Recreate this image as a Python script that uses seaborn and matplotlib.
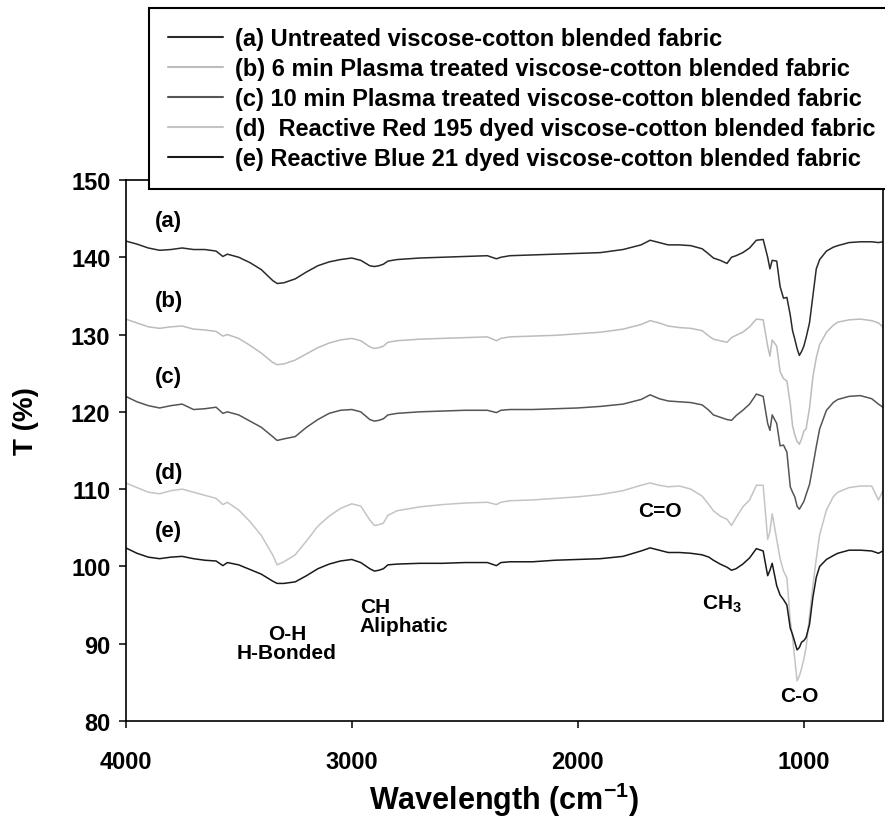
import pandas as pd
import matplotlib
matplotlib.use("Agg")
import matplotlib.pyplot as plt
import seaborn as sns

# --- wavenumber grid (cm-1) and transmittance ---
wavenumber = [4000, 3950, 3900, 3850, 3800, 3750, 3700, 3650, 3600, 3570, 3550, 3500,
              3450, 3400, 3350, 3330, 3300, 3250, 3200, 3150, 3100, 3050, 3000, 2960,
              2920, 2900, 2880, 2860, 2840, 2800, 2700, 2600, 2500, 2400, 2360, 2340,
              2300, 2200, 2100, 2000, 1900, 1800, 1720, 1680, 1640, 1600, 1550, 1500,
              1450, 1420, 1400, 1370, 1340, 1320, 1300, 1270, 1240, 1210, 1180, 1160,
              1150, 1140, 1120, 1105, 1090, 1075, 1060, 1050, 1040, 1030, 1020, 1010,
              1000, 990, 975, 960, 945, 930, 900, 870, 850, 800, 750, 700, 670, 650]

t_a = [142.1, 141.7, 141.2, 140.9, 141.0, 141.2, 141.0, 141.0, 140.8, 140.1, 140.4, 140.0,
       139.3, 138.4, 137.0, 136.6, 136.7, 137.2, 138.1, 138.9, 139.4, 139.7, 139.9, 139.6,
       138.9, 138.8, 138.9, 139.1, 139.5, 139.7, 139.9, 140.0, 140.1, 140.2, 139.8, 140.0,
       140.2, 140.3, 140.4, 140.5, 140.6, 141.0, 141.6, 142.2, 141.9, 141.6, 141.6, 141.5,
       141.1, 140.4, 139.9, 139.6, 139.2, 140.0, 140.2, 140.6, 141.2, 142.2, 142.3, 140.0,
       138.5, 139.6, 139.5, 136.2, 134.7, 134.8, 132.5, 130.5, 129.4, 128.2, 127.3, 127.8,
       128.5, 129.6, 131.5, 135.0, 138.5, 139.7, 140.8, 141.3, 141.5, 141.9, 142.0, 142.0,
       141.9, 142.0]

t_b = [132.0, 131.5, 131.0, 130.8, 131.0, 131.1, 130.7, 130.6, 130.4, 129.8, 130.0, 129.5,
       128.6, 127.6, 126.4, 126.1, 126.2, 126.7, 127.5, 128.3, 128.9, 129.3, 129.5, 129.2,
       128.4, 128.2, 128.3, 128.5, 129.0, 129.2, 129.4, 129.5, 129.6, 129.7, 129.2, 129.5,
       129.7, 129.8, 129.9, 130.1, 130.3, 130.7, 131.3, 131.8, 131.5, 131.1, 130.9, 130.8,
       130.5, 129.8, 129.4, 129.2, 129.0, 129.6, 129.9, 130.3, 131.0, 132.0, 131.9, 128.5,
       127.2, 129.3, 128.5, 125.2, 124.3, 124.0, 121.0, 118.2, 117.0, 116.2, 115.8, 116.5,
       117.5, 117.8, 120.5, 124.5, 127.0, 128.7, 130.3, 131.2, 131.6, 131.9, 132.0, 131.8,
       131.5, 131.0]

t_c = [122.0, 121.3, 120.8, 120.5, 120.8, 121.0, 120.3, 120.4, 120.6, 119.8, 120.0, 119.6,
       118.8, 118.0, 116.8, 116.3, 116.5, 116.8, 118.0, 119.0, 119.8, 120.2, 120.3, 120.0,
       119.0, 118.8, 118.9, 119.1, 119.6, 119.8, 120.0, 120.1, 120.2, 120.2, 119.9, 120.2,
       120.3, 120.3, 120.4, 120.5, 120.7, 121.0, 121.6, 122.2, 121.7, 121.4, 121.3, 121.2,
       120.9, 120.2, 119.6, 119.3, 119.0, 118.9, 119.5, 120.2, 121.0, 122.3, 122.0, 118.5,
       117.6, 119.6, 118.5, 115.6, 115.7, 114.8, 110.3, 109.6, 109.0, 107.8, 107.4, 107.9,
       108.4, 109.3, 110.6, 113.0, 115.5, 117.8, 120.2, 121.2, 121.6, 122.0, 122.1, 121.7,
       121.0, 120.6]

t_d = [110.8, 110.2, 109.6, 109.4, 109.8, 110.0, 109.6, 109.2, 108.8, 108.0, 108.3, 107.3,
       105.8, 104.0, 101.5, 100.2, 100.6, 101.5, 103.3, 105.2, 106.5, 107.5, 108.1, 107.8,
       106.0, 105.3, 105.4, 105.6, 106.6, 107.2, 107.7, 108.0, 108.2, 108.3, 108.0, 108.3,
       108.5, 108.6, 108.8, 109.0, 109.3, 109.8, 110.5, 110.8, 110.5, 110.3, 110.4, 110.0,
       109.1, 108.0, 107.2, 106.5, 106.1, 105.3, 106.3, 107.7, 108.6, 110.5, 110.5, 103.5,
       104.5, 106.8, 103.5, 101.0, 99.4, 98.5, 93.0, 90.8, 88.0, 85.2, 85.8, 86.8,
       88.0, 89.5, 93.6, 97.5, 101.0, 104.1, 107.3, 109.0, 109.6, 110.2, 110.4, 110.4,
       108.6, 109.8]

t_e = [102.4, 101.7, 101.2, 101.0, 101.2, 101.3, 101.0, 100.8, 100.7, 100.1, 100.5, 100.2,
       99.6, 99.0, 98.1, 97.8, 97.8, 98.0, 98.8, 99.7, 100.3, 100.7, 100.9, 100.5,
       99.7, 99.4, 99.5, 99.7, 100.2, 100.3, 100.4, 100.4, 100.5, 100.5, 100.1, 100.5,
       100.6, 100.6, 100.8, 100.9, 101.0, 101.3, 102.0, 102.4, 102.1, 101.8, 101.8, 101.7,
       101.5, 101.2, 100.8, 100.3, 99.9, 99.5, 99.7, 100.3, 101.1, 102.3, 102.0, 98.8,
       99.5, 100.4, 97.5, 96.3, 95.7, 95.0, 92.0, 91.2, 90.2, 89.2, 89.5, 90.2,
       90.4, 90.8, 92.5, 96.0, 98.6, 100.0, 100.9, 101.4, 101.7, 102.1, 102.1, 102.0,
       101.7, 102.0]

labels = ["(a) Untreated viscose-cotton blended fabric",
          "(b) 6 min Plasma treated viscose-cotton blended fabric",
          "(c) 10 min Plasma treated viscose-cotton blended fabric",
          "(d)  Reactive Red 195 dyed viscose-cotton blended fabric",
          "(e) Reactive Blue 21 dyed viscose-cotton blended fabric"]
colors = ["#2a2a2a", "#bcbcbc", "#555555", "#c4c4c4", "#1a1a1a"]

# curve tags and band assignments
tags = ["(a)", "(b)", "(c)", "(d)", "(e)"]
tag_y = [144.8, 134.4, 124.6, 112.1, 104.7]
bands = ["O-H\nH-Bonded", "CH\nAliphatic", "C=O", "CH$_3$", "C-O"]
band_x = [3287, 2965, 1638, 1363, 1020]
band_y = [90.1, 93.6, 107.2, 95.2, 83.3]

# --- long-form table for seaborn ---
frames = []
for lab, t in zip(labels, [t_a, t_b, t_c, t_d, t_e]):
    frames.append(pd.DataFrame({"wavenumber": wavenumber, "T": t, "sample": lab}))
df = pd.concat(frames, ignore_index=True)

sns.set_style("ticks")
plt.rcParams["font.family"] = ["Liberation Sans", "DejaVu Sans"]
plt.rcParams["font.weight"] = "bold"
for k in ["text.color", "axes.labelcolor", "xtick.color", "ytick.color", "axes.edgecolor"]:
    plt.rcParams[k] = "black"
plt.rcParams["mathtext.fontset"] = "custom"
plt.rcParams["mathtext.rm"] = "Liberation Sans:bold"
plt.rcParams["mathtext.bf"] = "Liberation Sans:bold"
plt.rcParams["mathtext.default"] = "bf"

fig = plt.figure(figsize=(8.85, 8.37), dpi=100)
ax = fig.add_axes([0.142, 0.1374, 0.8557, 0.6464])

sns.lineplot(data=df, x="wavenumber", y="T", hue="sample", palette=dict(zip(labels, colors)),
             estimator=None, linewidth=1.1, ax=ax)

ax.set_xlim(4000, 650)
ax.set_ylim(80, 150)
ax.set_xticks([4000, 3000, 2000, 1000])
ax.set_yticks(range(80, 151, 10))
ax.tick_params(direction="out", length=5, width=1.1, labelsize=17)
ax.tick_params(axis="x", pad=16)
ax.tick_params(axis="y", pad=6)
for s in ax.spines.values():
    s.set_linewidth(1.2)
ax.set_xlabel("")
ax.set_ylabel("")

for tg, ty in zip(tags, tag_y):
    ax.text(3810, ty, tg, ha="center", va="center", fontsize=16, fontweight="bold")
for bt, bx, by in zip(bands, band_x, band_y):
    ha = "left" if bt.startswith("CH\n") else "center"
    ax.text(bx, by, bt, ha=ha, va="center", fontsize=15, fontweight="bold", linespacing=1.05)

fig.text(504 / 885, 1 - 800 / 837, "Wavelength (cm$^{-1}$)", ha="center", va="center",
         fontsize=22, fontweight="bold")
fig.text(26 / 885, 1 - 421 / 837, "T (%)", ha="center", va="center", rotation=90,
         fontsize=20, fontweight="bold")

handles, labs = ax.get_legend_handles_labels()
ax.get_legend().remove()
leg = fig.legend(handles, labs, loc="upper left", bbox_to_anchor=(149 / 885, 1 - 9 / 837),
                 borderaxespad=0, prop={"weight": "bold", "size": 17}, handlelength=2.35,
                 handletextpad=0.5, labelspacing=0.3, borderpad=0.8, fancybox=False,
                 framealpha=1, edgecolor="black")
leg.get_frame().set_linewidth(1.5)
for ln in leg.get_lines():
    ln.set_linewidth(1.5)

fig.savefig("out.png", dpi=100)
